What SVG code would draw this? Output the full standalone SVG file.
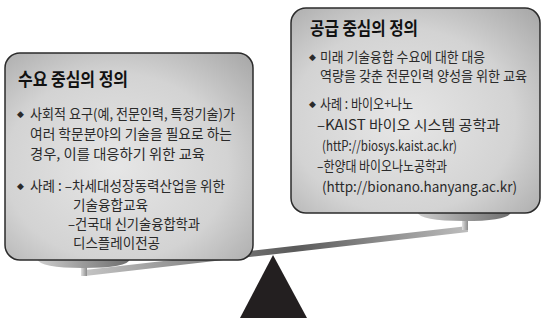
<svg xmlns="http://www.w3.org/2000/svg" width="542" height="320" viewBox="0 0 542 320">
<defs>
<radialGradient id="boxFill" cx="45%" cy="55%" r="75%">
<stop offset="0" stop-color="#e6e6e6"/>
<stop offset="0.6" stop-color="#d3d3d3"/>
<stop offset="1" stop-color="#a9a9a9"/>
</radialGradient>
<linearGradient id="trayFill" x1="0" y1="0" x2="1" y2="0">
<stop offset="0" stop-color="#cfcfcf"/>
<stop offset="0.5" stop-color="#9a9a9a"/>
<stop offset="1" stop-color="#6e6e6e"/>
</linearGradient>
<linearGradient id="beamFill" x1="85" y1="0" x2="468" y2="0" gradientUnits="userSpaceOnUse">
<stop offset="0" stop-color="#c4c4c4"/>
<stop offset="0.45" stop-color="#6a6a6a"/>
<stop offset="0.55" stop-color="#5a5a5a"/>
<stop offset="1" stop-color="#bdbdbd"/>
</linearGradient>
<linearGradient id="stemFill" x1="0" y1="0" x2="1" y2="0">
<stop offset="0" stop-color="#e0e0e0"/>
<stop offset="1" stop-color="#8a8a8a"/>
</linearGradient>
</defs>
<style>
.box{fill:url(#boxFill);stroke:#2b2b2b;stroke-width:1.5}
.title{font-family:"Noto Sans CJK KR","Noto Sans",sans-serif;font-weight:bold;font-size:18px;fill:#111}
.body{font-family:"Noto Sans CJK KR","Noto Sans",sans-serif;font-size:14px;fill:#2a2a2a}
.bullet{font-family:"DejaVu Sans",sans-serif;font-size:9px;fill:#2a2a2a}
.tray{fill:url(#trayFill)}
.stem{fill:url(#stemFill)}
</style>

<g id="scale">
<polygon points="85,270 468,226 468,232 85,276" fill="url(#beamFill)"/>
<rect class="stem" x="81" y="265" width="6" height="11"/>
<rect class="stem" x="462" y="219" width="6" height="11"/>
<path class="tray" d="M37,259 L130,259 Q128,268 83,268 Q40,268 37,259 Z"/>
<path class="tray" d="M417,212 L511,212 Q509,221 464,221 Q420,221 417,212 Z"/>
<polygon id="pivot" points="273,255 240,318 307,318" fill="#231f20"/>
</g>

<g id="demand">
<rect class="box" x="5" y="53" width="248" height="207" rx="15" ry="15"/>
<text class="title" x="18" y="86" textLength="110" lengthAdjust="spacingAndGlyphs">수요 중심의 정의</text>
<text class="bullet" x="17" y="117">◆</text>
<text class="body" x="30" y="119" textLength="205" lengthAdjust="spacingAndGlyphs">사회적 요구(예, 전문인력, 특정기술)가</text>
<text class="body" x="30" y="139" textLength="202" lengthAdjust="spacingAndGlyphs">여러 학문분야의 기술을 필요로 하는</text>
<text class="body" x="30" y="159" textLength="175" lengthAdjust="spacingAndGlyphs">경우, 이를 대응하기 위한 교육</text>
<text class="bullet" x="17" y="189">◆</text>
<text class="body" x="30" y="191" textLength="195" lengthAdjust="spacingAndGlyphs">사례 : –차세대성장동력산업을 위한</text>
<text class="body" x="73" y="210" textLength="75" lengthAdjust="spacingAndGlyphs">기술융합교육</text>
<text class="body" x="68" y="229" textLength="132" lengthAdjust="spacingAndGlyphs">–건국대 신기술융합학과</text>
<text class="body" x="73" y="248" textLength="87" lengthAdjust="spacingAndGlyphs">디스플레이전공</text>
</g>

<g id="supply">
<rect class="box" x="291" y="8" width="249" height="205" rx="15" ry="15"/>
<text class="title" x="310" y="35" textLength="108" lengthAdjust="spacingAndGlyphs">공급 중심의 정의</text>
<text class="bullet" x="309" y="60">◆</text>
<text class="body" x="320" y="62" textLength="165" lengthAdjust="spacingAndGlyphs">미래 기술융합 수요에 대한 대응</text>
<text class="body" x="320" y="81" textLength="207" lengthAdjust="spacingAndGlyphs">역량을 갖춘 전문인력 양성을 위한 교육</text>
<text class="bullet" x="309" y="107">◆</text>
<text class="body" x="320" y="109" textLength="93" lengthAdjust="spacingAndGlyphs">사례 : 바이오+나노</text>
<text class="body" x="317" y="130" textLength="183" lengthAdjust="spacingAndGlyphs">–KAIST 바이오 시스템 공학과</text>
<text class="body" x="322" y="151" textLength="135" lengthAdjust="spacingAndGlyphs">(httP://biosys.kaist.ac.kr)</text>
<text class="body" x="317" y="171" textLength="130" lengthAdjust="spacingAndGlyphs">–한양대 바이오나노공학과</text>
<text class="body" x="322" y="192" textLength="195" lengthAdjust="spacingAndGlyphs">(http://bionano.hanyang.ac.kr)</text>
</g>
</svg>
